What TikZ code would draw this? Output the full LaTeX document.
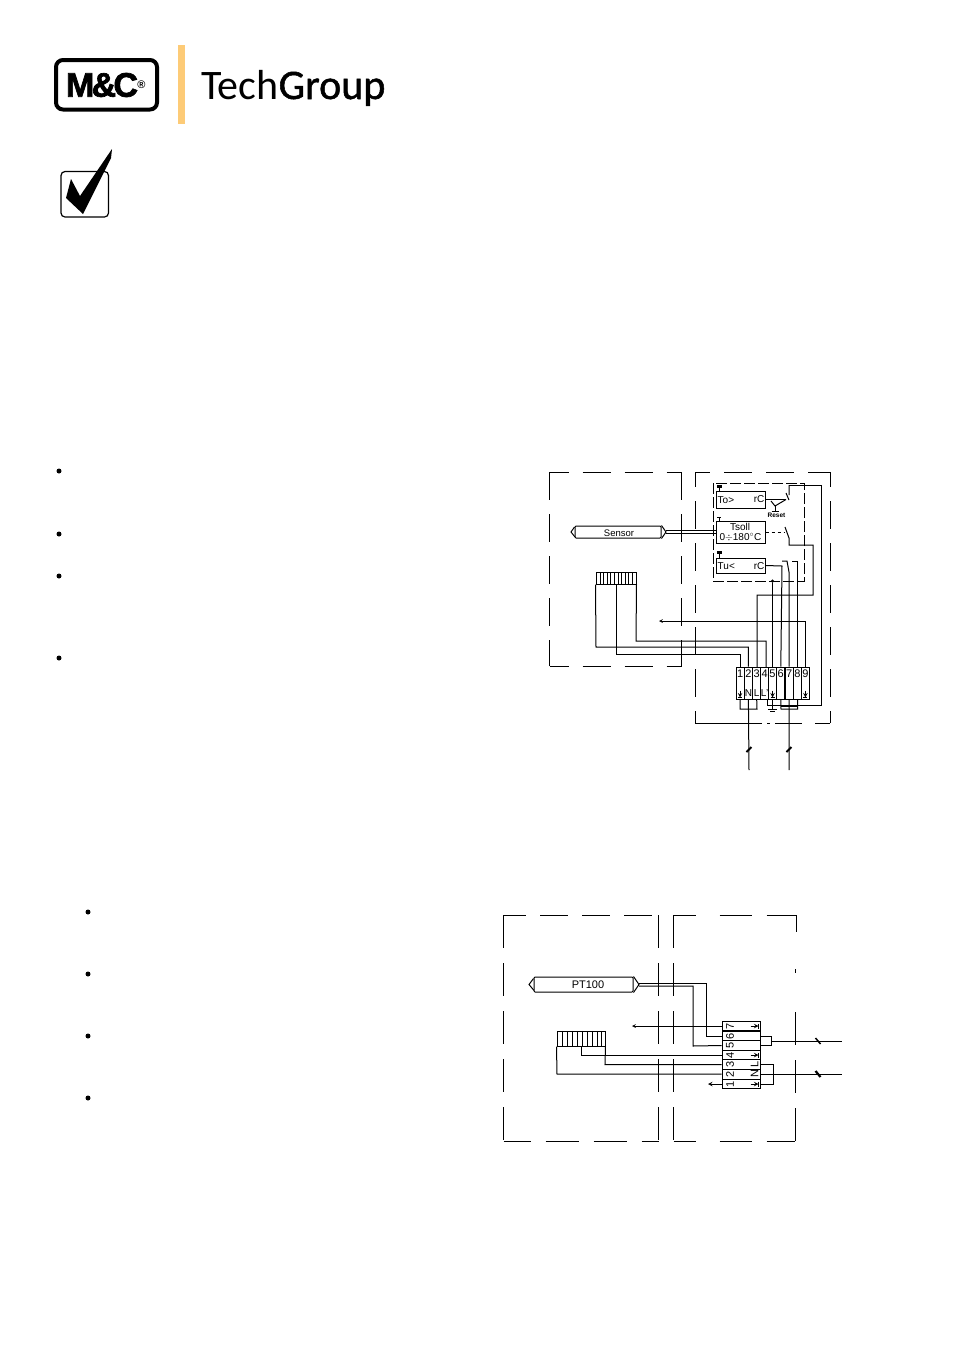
\documentclass[tikz,border=0pt]{standalone}
\usepackage{fontspec}
\usetikzlibrary{positioning}
\setsansfont{Liberation Sans}
\newfontfamily\techfont{Carlito}
\definecolor{logobar}{HTML}{FDCB77}
\tikzset{
    wire/.style={line width=1pt},
    thinwire/.style={line width=0.7pt},
    frame/.style={line width=1pt,dash pattern=on 28pt off 14pt},
    innerframe/.style={line width=0.9pt,dash pattern=on 11pt off 3pt},
    cell/.style={draw,line width=1pt,minimum width=8.2pt,minimum height=32pt,inner sep=0pt},
    rowcell/.style={draw,line width=1pt,minimum width=38pt,minimum height=9.7pt,inner sep=0pt},
    block/.style={draw,line width=1pt,minimum width=48.5pt,inner sep=0pt},
    tag/.style={font=\sffamily\fontsize{10}{11}\selectfont,inner sep=0pt},
    dotbullet/.style={fill,circle,inner sep=0pt,minimum size=5pt},
    earth/.style={line width=1pt,-stealth}
}
\begin{document}
\begin{tikzpicture}[x=1pt,y=-1pt]
    \useasboundingbox (0,0) rectangle (954,1350);

    \draw[line width=4pt,rounded corners=7pt] (56,60) rectangle (157,109.5);
    \node[inner sep=0pt,font=\sffamily\bfseries\fontsize{34}{34}\selectfont] (mc) at (102,85) {\addfontfeature{LetterSpace=-8,FakeBold=2}M\&C};
    \node[inner sep=0pt,font=\sffamily\bfseries\fontsize{11}{11}\selectfont,right=-1pt of mc] (reg) {\textregistered};
    \fill[logobar] (178,45) rectangle (185,124);
    \node[anchor=base west,inner sep=0pt,font=\fontsize{42}{42}\selectfont] (tech) at (201,99) {\techfont Tech{\addfontfeature{FakeBold=1.2}Group}};

    \draw[line width=1.2pt,rounded corners=4pt] (61,171.5) rectangle (108.5,217);
    \fill (112,149) -- (111,158) -- (83,214) -- (66,198) -- (71,179) -- (80,196) -- cycle;

    \foreach \bx/\by in {59/471,59/534,59/576,59/658,88/912,88/974,88/1036,88/1098}
        \node[dotbullet] (b\by) at (\bx,\by) {};

    \draw[frame,dash phase=9pt] (549.5,472) -- (682,472);
    \draw[frame,dash phase=9pt] (549.5,666) -- (682,666);
    \draw[frame] (549.5,472) -- (549.5,666);
    \draw[frame] (681.5,472) -- (681.5,666);
    \draw[frame,dash phase=13pt] (695,472) -- (830,472);
    \draw[frame,dash phase=13pt] (695,723) -- (706,723);
    \draw[wire] (706,723) -- (762,723);
    \draw[wire] (767,723) -- (770,723);
    \draw[wire] (775,723) -- (802,723);
    \draw[wire] (815,723) -- (830,723);
    \draw[frame,dash phase=13pt] (695,472) -- (695,723);
    \draw[frame,dash phase=13pt] (830,472) -- (830,723);
    \draw[innerframe] (713,483) rectangle (804,581);

    \node[block,minimum height=17pt] (to) at (740.75,499.5) {};
    \node[block,minimum height=22pt] (tsoll) at (740.75,532) {};
    \node[block,minimum height=15pt] (tu) at (740.75,565.5) {};
    \node[tag,anchor=west] (tolabel) at (717.5,500) {To>};
    \node[tag,anchor=east] (torc) at (764.5,499.5) {rC};
    \node[tag,anchor=west] (tulabel) at (717.5,566) {Tu<};
    \node[tag,anchor=east] (turc) at (764.5,566) {rC};
    \node[tag] (tsollname) at (740,527) {Tsoll};
    \node[tag] (tsollrange) at (740.5,537) {0$\div$180$^{\circ}$C};
    \node[tag,font=\sffamily\bfseries\fontsize{6.5}{7}\selectfont] (reset) at (776.5,515.5) {Reset};

    \draw[line width=3pt] (717,486.5) -- (722,486.5);
    \draw[thinwire] (717,517) -- (721,517) (719,517) -- (719,521);
    \draw[line width=3pt] (717,552.5) -- (722,552.5);
    \draw[thinwire] (719,487) -- (719,491) (719,553) -- (719,558);

    \draw[wire] (to.east) -- (786,499.5);
    \draw[wire] (771,501) -- (775,506) -- (786,499.5);
    \draw[wire] (775,506) -- (775,511) (771.5,511) -- (778.5,511);
    \draw[wire] (786,493) -- (789,500) (789,485) -- (789,495);
    \draw[wire] (789,485) -- (821,485) -- (821,705) -- (767,705) -- (767,700);
    \draw[wire,dashed] (tsoll.east) -- (785,532);
    \draw[wire] (785,527) -- (789,538) -- (789,545) -- (813,545) -- (813,595) -- (757,595) -- (757,667);

    \foreach \n/\cx in {1/740.1,2/748.4,3/756.7,4/764.6,5/772.5,6/780.8,7/789.1,8/797.5,9/805.4} {
        \node[cell] (t\n) at (\cx,683) {};
        \node[tag,font=\sffamily\fontsize{11}{11}\selectfont] (n\n) at (\cx,673.5) {\n};
    }
    \node[tag] (nn) at (t2.center |- 0,693) {N};
    \node[tag] (ln) at (t3.center |- 0,693) {L};
    \node[tag] (lp) at (t4.center |- 0,693) {L'};
    \foreach \n in {1,5,9} {
        \draw[earth] ([yshift=9]t\n.south) -- ([yshift=2]t\n.south);
        \draw[thinwire] ([xshift=-2,yshift=2]t\n.south) -- ([xshift=2,yshift=2]t\n.south);
    }

    \draw[wire] (tu.east) -- (782,566) -- (t6.north);
    \draw[wire] (782,561) -- (787,561) -- (789,572) -- (t7.north);
    \draw[wire] (792,561) -- (797.5,561) -- (t8.north);
    \node[fill,circle,inner sep=0pt,minimum size=3.5pt] (join) at (772.5,581) {};
    \draw[wire] (join) -- (t5.north);

    \node[draw,line width=1pt,minimum width=40pt,minimum height=12pt,inner sep=0pt] (blockA) at (616,578) {};
    \foreach \hx in {600,603.6,607.2,610.8,614.4,618,621.6,625.2,628.8,632.4}
        \draw[line width=0.8pt] (\hx,572) -- (\hx,584);
    \draw[wire] (blockA.south east) -- (636,641) -- (766,641) -- (766,667);
    \draw[wire] (blockA.south west) -- (596,647) -- (t2.north |- 0,647) -- (t2.north);
    \draw[wire] (blockA.south) -- (616,654) -- (t1.north |- 0,654) -- (t1.north);
    \draw[thinwire,-stealth] (t9.north) -- (t9.north |- 0,621) -- (659,621);

    \node[draw,line width=1pt,rounded corners=1pt,minimum width=86pt,minimum height=12pt,inner sep=0pt] (sensor) at (618,532) {};
    \node[tag,font=\sffamily\fontsize{9.5}{10}\selectfont] (sensorname) at (619,533.5) {Sensor};
    \draw[wire] (sensor.west) ++(0,-5) -- (571,532) -- ++(4,5);
    \draw[wire] (sensor.north east) -- (666,532) -- (sensor.south east);
    \draw[thinwire] (666,530.5) -- (tsoll.west |- 0,530.5);
    \draw[thinwire] (666,533.5) -- (tsoll.west |- 0,533.5);

    \draw[wire] (t1.south) -- (740,709) -- (757,709) -- (t3.south);
    \draw[wire] (t2.south) -- (749,770);
    \draw[line width=2pt] (746.5,752) -- (751.5,747);
    \draw[wire] (t6.south) -- (781,709) -- (797.5,709) -- (t8.south);
    \draw[wire] (781,706) -- (797.5,706);
    \draw[wire] (t7.south) -- (789,770);
    \draw[line width=2pt] (786.5,752) -- (791.5,747);
    \draw[wire] (t5.south) -- (772.5,709);
    \draw[wire] (768,709) -- (777,709) (770,711.5) -- (775,711.5);

    \draw[frame,dash phase=6pt] (504,915) -- (659,915);
    \draw[frame,dash phase=6pt,dash pattern=on 33pt off 15pt] (503.5,1141) -- (659,1141);
    \draw[frame,dash pattern=on 33pt off 15pt] (503.5,915) -- (503.5,1141);
    \draw[frame,dash pattern=on 33pt off 15pt] (658.5,915) -- (658.5,1141);
    \draw[frame,dash pattern=on 33pt off 15pt] (673.5,915) -- (673.5,1141);
    \draw[frame,dash pattern=on 22pt off 24pt on 32pt off 15pt on 30pt off 0pt] (673.5,915) -- (796,915);
    \draw[frame,dash pattern=on 22pt off 24pt on 32pt off 15pt on 30pt off 0pt] (673.5,1141) -- (795,1141);
    \draw[frame] (796,915) -- (796,932);
    \draw[frame] (795,969) -- (795,973);
    \draw[frame,dash pattern=on 33pt off 15pt] (795,1012) -- (795,1141);

    \foreach \n/\cy in {7/1026,6/1036,5/1045.5,4/1055,3/1064.5,2/1074.2,1/1084} {
        \node[rowcell] (r\n) at (741,\cy) {};
        \node[tag,rotate=90,font=\sffamily\fontsize{11}{11}\selectfont] (m\n) at (730,\cy) {\n};
    }
    \node[tag,rotate=90,font=\sffamily\fontsize{11}{11}\selectfont] (nl) at (754.5,1069.5) {N\,L};
    \foreach \n in {7,4,1} {
        \draw[earth] ([xshift=-10]r\n.east) -- ([xshift=-2]r\n.east);
        \draw[thinwire] ([xshift=-2,yshift=2.5]r\n.east) -- ([xshift=-2,yshift=-2.5]r\n.east);
    }

    \node[draw,line width=1pt,rounded corners=1pt,minimum width=99pt,minimum height=15pt,inner sep=0pt] (pt) at (583.5,984.5) {};
    \node[tag,font=\sffamily\fontsize{11}{11}\selectfont] (ptname) at (588,984.5) {PT100};
    \draw[wire] (pt.west) ++(0,-6) -- (529,984.5) -- ++(5,6);
    \draw[wire] (pt.north east) -- (639,984.5) -- (pt.south east);
    \draw[wire] (639,983) -- (706,983) -- (706,1036) -- (r6.west);
    \draw[wire] (639,986) -- (693,986) -- (693,1046) -- (r5.west);
    \draw[thinwire,-stealth] (r7.west) -- (632,1026);
    \draw[earth] (r1.west) -- (708,1084);

    \node[draw,line width=1pt,minimum width=48pt,minimum height=15pt,inner sep=0pt] (blockB) at (581,1038.5) {};
    \foreach \hx in {562,567,572,577,582,587,592,597,601}
        \draw[line width=0.8pt] (\hx,1031) -- (\hx,1046);
    \draw[wire] (blockB.south east) -- (605,1064.5) -- (r3.west);
    \draw[wire] (blockB.south) -- (581,1055) -- (r4.west);
    \draw[wire] (blockB.south west) -- (557,1074.2) -- (r2.west);

    \coordinate (endA) at (842,1041);
    \coordinate (endB) at (842,1074.2);
    \draw[wire] (r6.east) -- (771,1036) -- (771,1045.5) -- (r5.east);
    \draw[wire] (771,1041) -- (endA);
    \draw[wire] (r3.east) -- (773,1064.5) -- (773,1084) -- (r1.east);
    \draw[wire] (r2.east) -- (endB);
    \draw[line width=1.5pt] (815.5,1038) -- (820.5,1044);
    \draw[line width=2.2pt] (815.5,1071) -- (820.5,1077);
\end{tikzpicture}
\end{document}
